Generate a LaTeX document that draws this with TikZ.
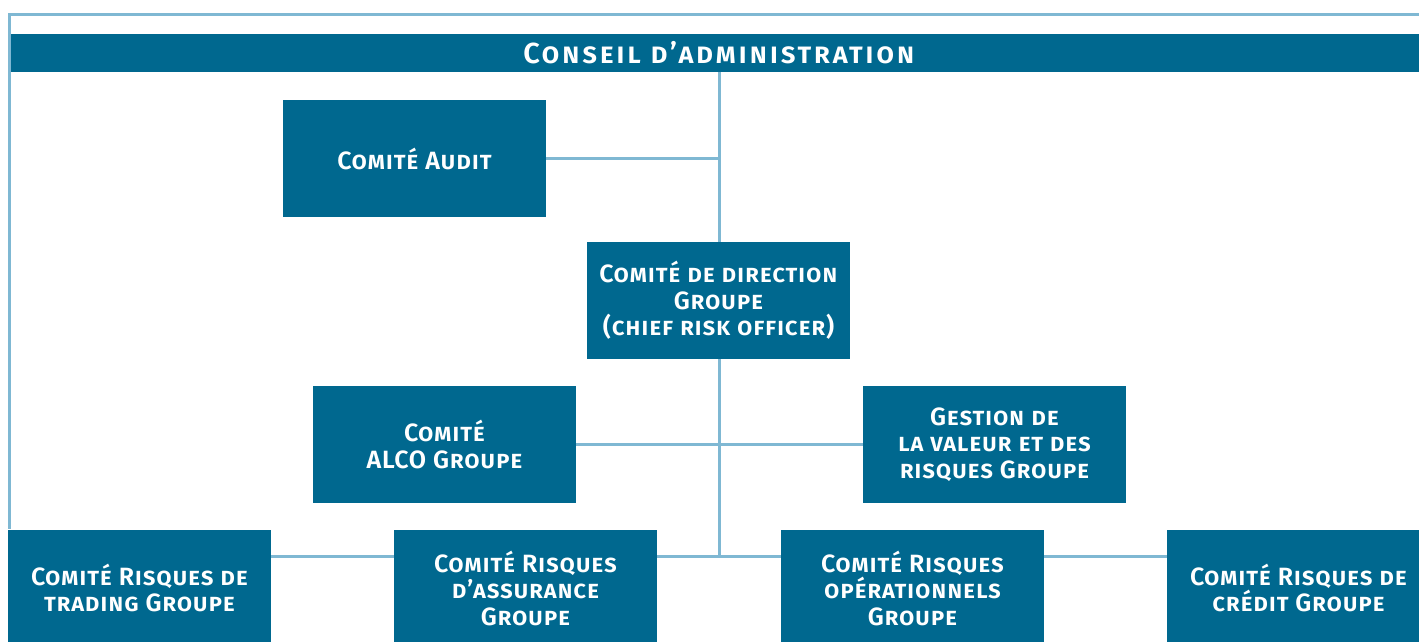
\documentclass[tikz,border=0pt]{standalone}
\usepackage{fontspec}
\setmainfont{Fira Sans}[BoldFont={Fira Sans SemiBold}]
\usepackage{tikz}
\definecolor{bleu}{HTML}{00688F}
\definecolor{trait}{HTML}{7FB8D3}
\tikzstyle{boite}=[fill=bleu,text=white,inner sep=0pt,minimum width=263pt,minimum height=117pt,align=center,font=\fontsize{25}{26.5}\selectfont\bfseries\scshape\addfontfeatures{LetterSpace=3}]
\tikzstyle{lien}=[trait,line width=3pt]

\begin{document}
\begin{tikzpicture}[x=1pt,y=-1pt]
    \useasboundingbox (0,0) rectangle (1419,642);
    \node [boite,minimum width=1422pt,minimum height=38pt,font=\fontsize{29}{30}\selectfont\bfseries\scshape\addfontfeatures{LetterSpace=9}] (conseil) at (719,53) {Conseil d’administration};
    \node [boite] (audit) at (414.5,158.5) {Comité Audit};
    \node [boite] (direction) at (718.5,300.5) {Comité de direction\\Groupe\\(chief risk officer)};
    \node [boite] (alco) at (444.5,444.5) {Comité\\ALCO Groupe};
    \node [boite] (gestion) at (994.5,444.5) {Gestion de\\la valeur et des\\risques Groupe};
    \node [boite] (trading) at (139.5,588) {Comité Risques de\\trading Groupe};
    \node [boite] (assurance) at (525.5,588) {Comité Risques\\d’assurance\\Groupe};
    \node [boite] (operationnels) at (912.5,588) {Comité Risques\\opérationnels\\Groupe};
    \node [boite] (credit) at (1298.5,588) {Comité Risques de\\crédit Groupe};
    \coordinate (coin) at (9.5,14.5);
    \coordinate (hub) at (719,556);
    \draw [lien] (conseil.north east |- coin) -- (coin) -- (coin |- trading.north);
    \draw [lien] (hub |- conseil.south) -- (hub |- direction.north);
    \draw [lien] (hub |- direction.south) -- (hub);
    \draw [lien] (audit.east) -- (hub |- audit.east);
    \draw [lien] (alco.east) -- (gestion.west);
    \draw [lien] (trading.east |- hub) -- (assurance.west |- hub);
    \draw [lien] (assurance.east |- hub) -- (operationnels.west |- hub);
    \draw [lien] (operationnels.east |- hub) -- (credit.west |- hub);
\end{tikzpicture}
\end{document}
